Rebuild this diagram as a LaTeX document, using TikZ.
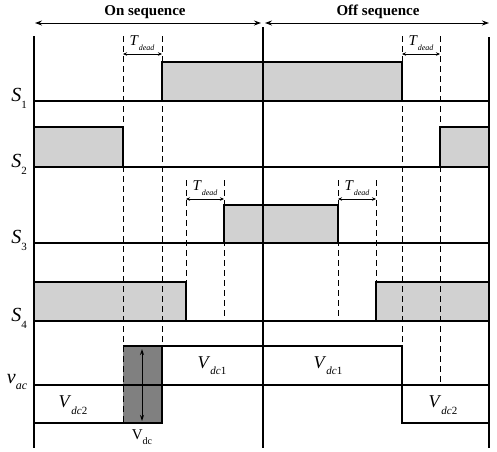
\documentclass[tikz,border=0pt]{standalone}
\usepackage{fontspec}
\setmainfont{Liberation Serif}
\usetikzlibrary{arrows.meta}
\newcommand{\sig}[2]{\textit{#1}\raisebox{-0.35em}{\fontsize{11}{11}\selectfont #2}}
\newcommand{\tdead}{\textit{T}\raisebox{-0.3em}{\fontsize{8}{8}\selectfont\textit{dead}}}
\begin{document}
\begin{tikzpicture}[x=1pt,y=-1pt,
  sigline/.style={line width=1.8pt},
  axisline/.style={line width=1.6pt},
  edgeline/.style={line width=1.2pt},
  dsh/.style={line width=0.9pt, dash pattern=on 6pt off 4pt},
  lightfill/.style={fill=black!18},
  darkfill/.style={fill=black!50},
  tarrow/.style={{Stealth[length=4pt,width=3.5pt]}-{Stealth[length=4pt,width=3.5pt]}, line width=0.8pt},
  seqarrow/.style={{Stealth[length=7pt,width=5pt]}-{Stealth[length=7pt,width=5pt]}, line width=1pt},
  slabel/.style={font=\fontsize{20}{22}\selectfont},
  vlabel/.style={font=\fontsize{18}{20}\selectfont},
  tlabel/.style={font=\fontsize{15}{16}\selectfont},
  seqlabel/.style={font=\fontsize{15}{16}\selectfont\bfseries}]
\useasboundingbox (0,0) rectangle (497,451);

% fills
\fill[lightfill] (162,62) rectangle (402,101);
\fill[lightfill] (34,127) rectangle (123,167);
\fill[lightfill] (440,127) rectangle (489,167);
\fill[lightfill] (224,205) rectangle (338,243);
\fill[lightfill] (34,282) rectangle (186,321);
\fill[lightfill] (376,282) rectangle (489,321);
\fill[darkfill] (123,346) rectangle (162,423);

% dashed guides
\draw[dsh] (123,36) -- (123,423);
\draw[dsh] (162,36) -- (162,346);
\draw[dsh] (402,36) -- (402,346);
\draw[dsh] (440,36) -- (440,385);
\draw[dsh] (186,180) -- (186,282);
\draw[dsh] (224,180) -- (224,321);
\draw[dsh] (338,180) -- (338,321);
\draw[dsh] (376,180) -- (376,282);

% baselines
\draw[sigline] (34,101) -- (489,101);
\draw[sigline] (34,167) -- (489,167);
\draw[sigline] (34,243) -- (489,243);
\draw[sigline] (34,321) -- (489,321);
\draw[sigline] (34,385) -- (489,385);

% waveforms
\draw[edgeline] (162,101) -- (162,62) -- (402,62) -- (402,101);
\draw[edgeline] (34,127) -- (123,127) -- (123,167);
\draw[edgeline] (489,127) -- (440,127) -- (440,167);
\draw[edgeline] (224,243) -- (224,205) -- (338,205) -- (338,243);
\draw[edgeline] (34,282) -- (186,282) -- (186,321);
\draw[edgeline] (376,321) -- (376,282) -- (489,282);
\draw[sigline] (34,423) -- (162,423) -- (162,346) -- (402,346) -- (402,423) -- (489,423);
\draw[edgeline] (123,346) -- (162,346);

% axes
\draw[axisline] (34,36) -- (34,448);
\draw[axisline] (263,27) -- (263,448);
\draw[axisline] (489,37) -- (489,448);

% sequence arrows
\draw[seqarrow] (35,23) -- (261,23);
\draw[seqarrow] (265,23) -- (489,23);
\node[seqlabel] (on) at (145,12) {On sequence};
\node[seqlabel] (off) at (378,12) {Off sequence};

% dead-time brackets
\draw[tarrow] (123,54) -- (162,54);
\draw[tarrow] (402,54) -- (440,54);
\draw[tarrow] (186,199) -- (224,199);
\draw[tarrow] (338,199) -- (376,199);
\node[tlabel] (t1) at (142,43) {\tdead};
\node[tlabel] (t2) at (421,43) {\tdead};
\node[tlabel] (t3) at (205,188) {\tdead};
\node[tlabel] (t4) at (357,188) {\tdead};

% Vdc arrow
\draw[{Stealth[length=6pt,width=4pt]}-{Stealth[length=6pt,width=4pt]}, line width=1pt] (142,349) -- (142,421);
\node[font=\fontsize{15}{16}\selectfont] (vdc) at (142,437) {V\raisebox{-0.3em}{\fontsize{10}{10}\selectfont dc}};

% labels
\node[slabel] (s1) at (19,98) {\sig{S}{1}};
\node[slabel] (s2) at (19,164) {\sig{S}{2}};
\node[slabel] (s3) at (19,240) {\sig{S}{3}};
\node[slabel] (s4) at (19,318) {\sig{S}{4}};
\node[slabel] (vac) at (17,382) {\textit{v}\raisebox{-0.3em}{\fontsize{12}{12}\selectfont\textit{ac}}};
\node[vlabel] (vdc1a) at (212,366) {\sig{V}{\textit{dc}1}};
\node[vlabel] (vdc1b) at (328,366) {\sig{V}{\textit{dc}1}};
\node[vlabel] (vdc2a) at (73,405) {\sig{V}{\textit{dc}2}};
\node[vlabel] (vdc2b) at (443,405) {\sig{V}{\textit{dc}2}};
\end{tikzpicture}
\end{document}
